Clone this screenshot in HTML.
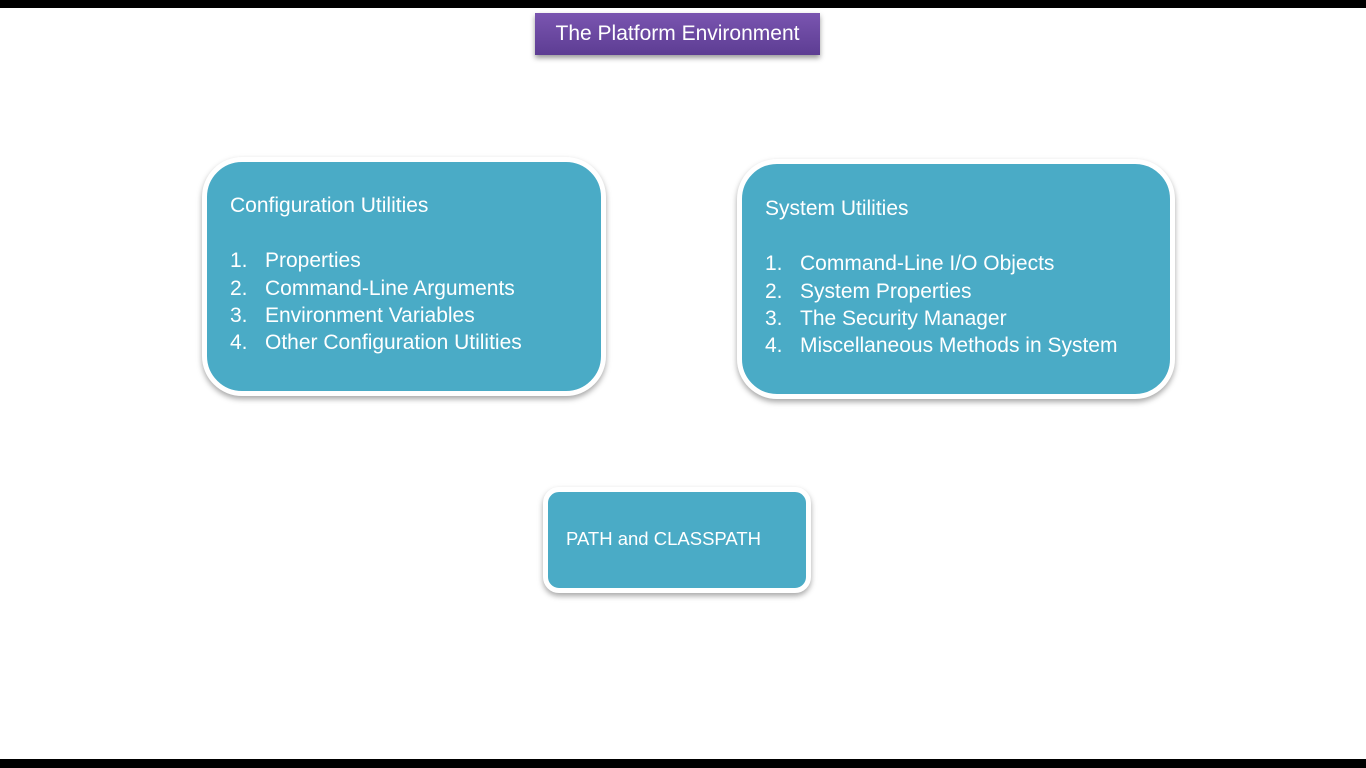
<!DOCTYPE html>
<html><head><style>
body{margin:0;width:1366px;height:768px;background:#fff;position:relative;overflow:hidden;font-family:"Liberation Sans",sans-serif;}
.bar{position:absolute;left:0;width:1366px;background:#000}
.box{position:absolute;background:#4aabc6;border:5px solid #fff;box-shadow:0 3px 6px rgba(0,0,0,.35);box-sizing:border-box}
.t{position:absolute;color:#fff;font-size:21px;line-height:22px;white-space:nowrap}
</style></head><body>
<div class="bar" style="top:0;height:8px"></div>
<div class="bar" style="top:759px;height:9px"></div>
<div style="position:absolute;left:535px;top:13px;width:285px;height:42px;background:linear-gradient(#7a55b0,#5d3d93);box-shadow:0 3px 5px rgba(0,0,0,.4);color:#fff;font-size:21px;text-align:center;line-height:42px">The Platform Environment</div>

<div class="box" style="left:202px;top:157px;width:404px;height:239px;border-radius:40px"></div>
<div class="t" style="left:230px;top:195px">Configuration Utilities</div>
<div class="t" style="left:230px;top:250px">1.</div><div class="t" style="left:265px;top:250px">Properties</div>
<div class="t" style="left:230px;top:278px">2.</div><div class="t" style="left:265px;top:278px">Command-Line Arguments</div>
<div class="t" style="left:230px;top:305px">3.</div><div class="t" style="left:265px;top:305px">Environment Variables</div>
<div class="t" style="left:230px;top:332px">4.</div><div class="t" style="left:265px;top:332px">Other Configuration Utilities</div>

<div class="box" style="left:737px;top:159px;width:438px;height:240px;border-radius:40px"></div>
<div class="t" style="left:765px;top:198px">System Utilities</div>
<div class="t" style="left:765px;top:253px">1.</div><div class="t" style="left:800px;top:253px">Command-Line I/O Objects</div>
<div class="t" style="left:765px;top:281px">2.</div><div class="t" style="left:800px;top:281px">System Properties</div>
<div class="t" style="left:765px;top:308px">3.</div><div class="t" style="left:800px;top:308px">The Security Manager</div>
<div class="t" style="left:765px;top:335px">4.</div><div class="t" style="left:800px;top:335px">Miscellaneous Methods in System</div>

<div class="box" style="left:543px;top:487px;width:268px;height:106px;border-radius:16px"></div>
<div class="t" style="left:566px;top:528px;font-size:18.5px">PATH and CLASSPATH</div>
</body></html>
